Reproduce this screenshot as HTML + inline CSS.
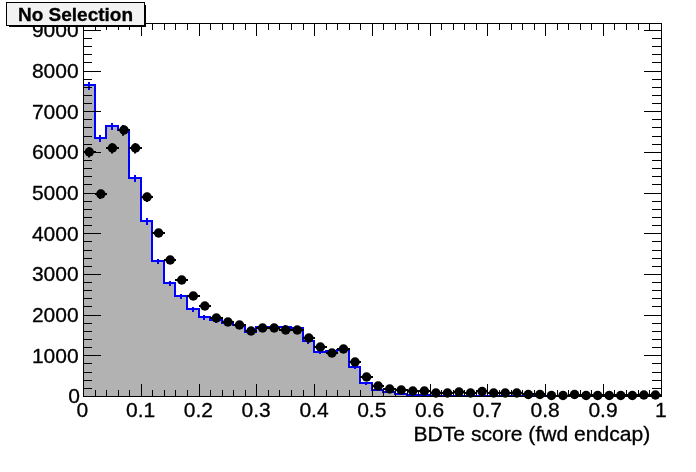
<!DOCTYPE html>
<html><head><meta charset="utf-8"><title>No Selection</title>
<style>html,body{margin:0;padding:0;background:#fff}svg{display:block;will-change:transform}text{font-family:"Liberation Sans",sans-serif;fill:#000;stroke:#000;stroke-width:0.3px}</style></head>
<body>
<svg width="696" height="472" viewBox="0 0 696 472">
<rect x="0" y="0" width="696" height="472" fill="#fff"/>
<g font-size="21" text-anchor="end">
<text x="80.0" y="403.30">0</text>
<text x="78.6" y="362.62">1000</text>
<text x="78.6" y="321.94">2000</text>
<text x="78.6" y="281.26">3000</text>
<text x="78.6" y="240.58">4000</text>
<text x="78.6" y="199.90">5000</text>
<text x="78.6" y="159.22">6000</text>
<text x="78.6" y="118.54">7000</text>
<text x="78.6" y="77.86">8000</text>
<text x="78.6" y="37.18">9000</text>
</g>
<g shape-rendering="crispEdges">
<polygon fill="#b2b2b2" points="83.5,396.5 83,85 95,85 95,138 106,138 106,126 118,126 118,130 129,130 129,178 141,178 141,221 152,221 152,261 164,261 164,283 175,283 175,296 187,296 187,309 199,309 199,317 210,317 210,320 222,320 222,323 233,323 233,325 245,325 245,332 256,332 256,327 268,327 268,327 279,327 279,327 291,327 291,328 303,328 303,341 314,341 314,352 326,352 326,351 337,351 337,350 349,350 349,367 360,367 360,383 372,383 372,390 383,390 383,392 395,392 395,394 407,394 407,395 418,395 418,395 430,395 430,396 441,396 441,396 453,396 453,396 464,396 464,396 476,396 476,396 487,396 487,396 499,396 499,396 511,396 511,396 522,396 522,396 534,396 534,396 545,396 545,396 557,396 557,396 568,396 568,396 580,396 580,396 591,396 591,396 603,396 603,396 614,396 614,396 626,396 626,396 638,396 638,396 649,396 649,396 661,396 661,396.5"/>
<polyline fill="none" stroke="#0000ff" stroke-width="2" stroke-linejoin="miter" points="84,85 95,85 95,138 106,138 106,126 118,126 118,130 129,130 129,178 141,178 141,221 152,221 152,261 164,261 164,283 175,283 175,296 187,296 187,309 199,309 199,317 210,317 210,320 222,320 222,323 233,323 233,325 245,325 245,332 256,332 256,327 268,327 268,327 279,327 279,327 291,327 291,328 303,328 303,341 314,341 314,352 326,352 326,351 337,351 337,350 349,350 349,367 360,367 360,383 372,383 372,390 383,390 383,392 395,392 395,394 407,394 407,395 418,395 418,395 430,395 430,396 441,396 441,396 453,396 453,396 464,396 464,396 476,396 476,396 487,396 487,396 499,396 499,396 511,396 511,396 522,396 522,396 534,396 534,396 545,396 545,396 557,396 557,396 568,396 568,396 580,396 580,396 591,396 591,396 603,396 603,396 614,396 614,396 626,396 626,396 638,396 638,396 649,396 649,396 661,396 661,396.5"/>
<path d="M89,82V90M100,135V142M112,123V130M123,127V134M135,175V182M147,218V225M158,259V264M170,281V286M181,294V299M193,307V312M204,315V320M216,318V323M227,321V326M239,323V328M251,330V335M262,325V330M274,325V330M285,325V330M297,326V331M308,340V344M320,351V354M331,350V353M343,349V352M355,366V369M366,382V385" stroke="#0000ff" stroke-width="2" fill="none"/>
<rect x="83.5" y="23.5" width="578.0" height="373.0" fill="none" stroke="#000" stroke-width="1"/>
<path d="M83.5,396.5v-12.6M83.5,23.5v12.6M95.5,396.5v-6.6M95.5,23.5v6.6M106.5,396.5v-6.6M106.5,23.5v6.6M118.5,396.5v-6.6M118.5,23.5v6.6M129.5,396.5v-6.6M129.5,23.5v6.6M141.5,396.5v-12.6M141.5,23.5v12.6M152.5,396.5v-6.6M152.5,23.5v6.6M164.5,396.5v-6.6M164.5,23.5v6.6M175.5,396.5v-6.6M175.5,23.5v6.6M187.5,396.5v-6.6M187.5,23.5v6.6M199.5,396.5v-12.6M199.5,23.5v12.6M210.5,396.5v-6.6M210.5,23.5v6.6M222.5,396.5v-6.6M222.5,23.5v6.6M233.5,396.5v-6.6M233.5,23.5v6.6M245.5,396.5v-6.6M245.5,23.5v6.6M256.5,396.5v-12.6M256.5,23.5v12.6M268.5,396.5v-6.6M268.5,23.5v6.6M279.5,396.5v-6.6M279.5,23.5v6.6M291.5,396.5v-6.6M291.5,23.5v6.6M303.5,396.5v-6.6M303.5,23.5v6.6M314.5,396.5v-12.6M314.5,23.5v12.6M326.5,396.5v-6.6M326.5,23.5v6.6M337.5,396.5v-6.6M337.5,23.5v6.6M349.5,396.5v-6.6M349.5,23.5v6.6M360.5,396.5v-6.6M360.5,23.5v6.6M372.5,396.5v-12.6M372.5,23.5v12.6M383.5,396.5v-6.6M383.5,23.5v6.6M395.5,396.5v-6.6M395.5,23.5v6.6M407.5,396.5v-6.6M407.5,23.5v6.6M418.5,396.5v-6.6M418.5,23.5v6.6M430.5,396.5v-12.6M430.5,23.5v12.6M441.5,396.5v-6.6M441.5,23.5v6.6M453.5,396.5v-6.6M453.5,23.5v6.6M464.5,396.5v-6.6M464.5,23.5v6.6M476.5,396.5v-6.6M476.5,23.5v6.6M487.5,396.5v-12.6M487.5,23.5v12.6M499.5,396.5v-6.6M499.5,23.5v6.6M511.5,396.5v-6.6M511.5,23.5v6.6M522.5,396.5v-6.6M522.5,23.5v6.6M534.5,396.5v-6.6M534.5,23.5v6.6M545.5,396.5v-12.6M545.5,23.5v12.6M557.5,396.5v-6.6M557.5,23.5v6.6M568.5,396.5v-6.6M568.5,23.5v6.6M580.5,396.5v-6.6M580.5,23.5v6.6M591.5,396.5v-6.6M591.5,23.5v6.6M603.5,396.5v-12.6M603.5,23.5v12.6M614.5,396.5v-6.6M614.5,23.5v6.6M626.5,396.5v-6.6M626.5,23.5v6.6M638.5,396.5v-6.6M638.5,23.5v6.6M649.5,396.5v-6.6M649.5,23.5v6.6M661.5,396.5v-12.6M661.5,23.5v12.6M83.5,396.5h17.5M661.5,396.5h-17.5M83.5,388.5h8.5M661.5,388.5h-9.5M83.5,380.5h8.5M661.5,380.5h-9.5M83.5,372.5h8.5M661.5,372.5h-9.5M83.5,363.5h8.5M661.5,363.5h-9.5M83.5,355.5h17.5M661.5,355.5h-17.5M83.5,347.5h8.5M661.5,347.5h-9.5M83.5,339.5h8.5M661.5,339.5h-9.5M83.5,331.5h8.5M661.5,331.5h-9.5M83.5,323.5h8.5M661.5,323.5h-9.5M83.5,315.5h17.5M661.5,315.5h-17.5M83.5,306.5h8.5M661.5,306.5h-9.5M83.5,298.5h8.5M661.5,298.5h-9.5M83.5,290.5h8.5M661.5,290.5h-9.5M83.5,282.5h8.5M661.5,282.5h-9.5M83.5,274.5h17.5M661.5,274.5h-17.5M83.5,266.5h8.5M661.5,266.5h-9.5M83.5,258.5h8.5M661.5,258.5h-9.5M83.5,250.5h8.5M661.5,250.5h-9.5M83.5,241.5h8.5M661.5,241.5h-9.5M83.5,233.5h17.5M661.5,233.5h-17.5M83.5,225.5h8.5M661.5,225.5h-9.5M83.5,217.5h8.5M661.5,217.5h-9.5M83.5,209.5h8.5M661.5,209.5h-9.5M83.5,201.5h8.5M661.5,201.5h-9.5M83.5,193.5h17.5M661.5,193.5h-17.5M83.5,184.5h8.5M661.5,184.5h-9.5M83.5,176.5h8.5M661.5,176.5h-9.5M83.5,168.5h8.5M661.5,168.5h-9.5M83.5,160.5h8.5M661.5,160.5h-9.5M83.5,152.5h17.5M661.5,152.5h-17.5M83.5,144.5h8.5M661.5,144.5h-9.5M83.5,136.5h8.5M661.5,136.5h-9.5M83.5,127.5h8.5M661.5,127.5h-9.5M83.5,119.5h8.5M661.5,119.5h-9.5M83.5,111.5h17.5M661.5,111.5h-17.5M83.5,103.5h8.5M661.5,103.5h-9.5M83.5,95.5h8.5M661.5,95.5h-9.5M83.5,87.5h8.5M661.5,87.5h-9.5M83.5,79.5h8.5M661.5,79.5h-9.5M83.5,71.5h17.5M661.5,71.5h-17.5M83.5,62.5h8.5M661.5,62.5h-9.5M83.5,54.5h8.5M661.5,54.5h-9.5M83.5,46.5h8.5M661.5,46.5h-9.5M83.5,38.5h8.5M661.5,38.5h-9.5M83.5,30.5h17.5M661.5,30.5h-17.5" stroke="#000" stroke-width="1" fill="none"/>
<path d="M83,152H96M95,194H107M106,148H119M118,130H130M129,148H142M141,197H153M152,233H165M164,260H176M175,280H188M187,296H200M199,306H211M210,318H223M222,322H234M233,325H246M245,331H257M256,328H269M268,328H280M279,330H292M291,330H304M303,338H315M314,347H327M326,353H338M337,349H350M349,362H361M360,377H373M372,386H384M383,389H396M395,390H408M407,391H419M418,391H431M430,393H442M441,393H454M453,392H465M464,393H477M476,391H488M487,393H500M499,393H512M511,393H523M522,394H535M534,394H546M545,396H558M557,396H569M568,395H581M580,395H592M591,395H604M603,395H615M614,395H627M626,395H639M638,395H650M649,395H662" stroke="#000" stroke-width="2" fill="none"/>
</g>
<path d="M89,147.26V157.44M100,189.70V199.00M112,143.21V153.49M123,125.03V135.67M135,143.21V153.49M147,192.74V201.96" stroke="#000" stroke-width="2" fill="none"/>
<g fill="#000">
<circle cx="89.30" cy="152" r="4.75"/>
<circle cx="100.85" cy="194" r="4.75"/>
<circle cx="112.40" cy="148" r="4.75"/>
<circle cx="123.96" cy="130" r="4.75"/>
<circle cx="135.51" cy="148" r="4.75"/>
<circle cx="147.06" cy="197" r="4.75"/>
<circle cx="158.62" cy="233" r="4.75"/>
<circle cx="170.17" cy="260" r="4.75"/>
<circle cx="181.73" cy="280" r="4.75"/>
<circle cx="193.28" cy="296" r="4.75"/>
<circle cx="204.83" cy="306" r="4.75"/>
<circle cx="216.39" cy="318" r="4.75"/>
<circle cx="227.94" cy="322" r="4.75"/>
<circle cx="239.49" cy="325" r="4.75"/>
<circle cx="251.05" cy="331" r="4.75"/>
<circle cx="262.60" cy="328" r="4.75"/>
<circle cx="274.15" cy="328" r="4.75"/>
<circle cx="285.71" cy="330" r="4.75"/>
<circle cx="297.26" cy="330" r="4.75"/>
<circle cx="308.82" cy="338" r="4.75"/>
<circle cx="320.37" cy="347" r="4.75"/>
<circle cx="331.92" cy="353" r="4.75"/>
<circle cx="343.48" cy="349" r="4.75"/>
<circle cx="355.03" cy="362" r="4.75"/>
<circle cx="366.58" cy="377" r="4.75"/>
<circle cx="378.14" cy="386" r="4.75"/>
<circle cx="389.69" cy="389" r="4.75"/>
<circle cx="401.24" cy="390" r="4.75"/>
<circle cx="412.80" cy="391" r="4.75"/>
<circle cx="424.35" cy="391" r="4.75"/>
<circle cx="435.90" cy="393.0" r="4.75"/>
<circle cx="447.46" cy="393.0" r="4.75"/>
<circle cx="459.01" cy="392.0" r="4.75"/>
<circle cx="470.57" cy="393.0" r="4.75"/>
<circle cx="482.12" cy="391.5" r="4.75"/>
<circle cx="493.67" cy="393.0" r="4.75"/>
<circle cx="505.23" cy="393.0" r="4.75"/>
<circle cx="516.78" cy="393.0" r="4.75"/>
<circle cx="528.33" cy="394.5" r="4.75"/>
<circle cx="539.89" cy="394.5" r="4.75"/>
<circle cx="551.44" cy="395.5" r="4.75"/>
<circle cx="562.99" cy="395.5" r="4.75"/>
<circle cx="574.55" cy="394.5" r="4.75"/>
<circle cx="586.10" cy="395.5" r="4.75"/>
<circle cx="597.66" cy="395.5" r="4.75"/>
<circle cx="609.21" cy="395.5" r="4.75"/>
<circle cx="620.76" cy="395.5" r="4.75"/>
<circle cx="632.32" cy="395.5" r="4.75"/>
<circle cx="643.87" cy="395.0" r="4.75"/>
<circle cx="655.42" cy="395.0" r="4.75"/>
</g>
<g font-size="21" text-anchor="middle">
<text x="82.30" y="416.6">0</text>
<text x="140.60" y="416.6">0.1</text>
<text x="198.40" y="416.6">0.2</text>
<text x="256.20" y="416.6">0.3</text>
<text x="314.00" y="416.6">0.4</text>
<text x="371.80" y="416.6">0.5</text>
<text x="429.60" y="416.6">0.6</text>
<text x="487.40" y="416.6">0.7</text>
<text x="545.20" y="416.6">0.8</text>
<text x="603.00" y="416.6">0.9</text>
<text x="660.80" y="416.6">1</text>
</g>
<text x="650.3" y="440.8" font-size="21.1" text-anchor="end">BDTe score (fwd endcap)</text>
<g shape-rendering="crispEdges">
<rect x="8.5" y="4.5" width="137.5" height="22.1" fill="#000"/>
<rect x="6.5" y="2.5" width="138" height="23" fill="#f2f2f2" stroke="#000" stroke-width="1"/>
</g>
<text x="75.5" y="20.7" font-size="19" font-weight="bold" text-anchor="middle">No Selection</text>
</svg></body></html>
